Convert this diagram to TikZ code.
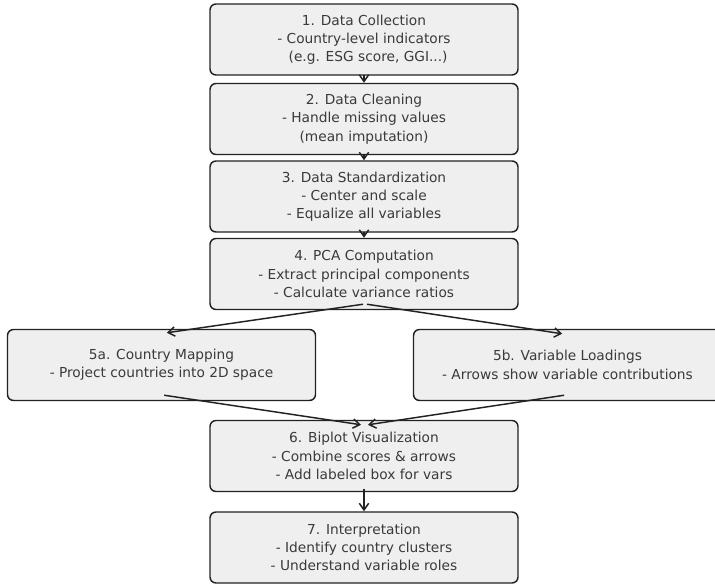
\documentclass[tikz,border=0pt]{standalone}
\usepackage{fontspec}
\setmainfont{DejaVu Sans}
\usetikzlibrary{arrows.meta}
\definecolor{boxfill}{HTML}{EFEFEF}
\definecolor{boxline}{HTML}{222222}
\definecolor{txt}{HTML}{3A3A3A}
\tikzset{
  stepbox/.style={draw=boxline, fill=boxfill, line width=1.1pt, rounded corners=4.5pt,
    minimum width=231pt, minimum height=53.25pt, inner sep=0pt, align=center,
    text=txt, font=\fontsize{10.3}{13.7}\selectfont},
  arr/.style={draw=boxline, line width=1.1pt, -{Straight Barb[length=5pt,width=7pt]}}
}
\begin{document}
\begin{tikzpicture}[x=0.75pt,y=-0.75pt]
\fill[white] (0,0) rectangle (715,584);
\useasboundingbox (0,0) rectangle (715,584);
\clip (0,0) rectangle (715,584);
\node[stepbox] (b1) at (364,39.5) {1. Data Collection\\- Country-level indicators\\\hspace{0.6em}(e.g. ESG score, GGI...)};
\node[stepbox] (b2) at (364,119) {2. Data Cleaning\\- Handle missing values\\(mean imputation)};
\node[stepbox] (b3) at (364,196.5) {3. Data Standardization\\- Center and scale\\- Equalize all variables};
\node[stepbox] (b4) at (364,274) {4. PCA Computation\\- Extract principal components\\- Calculate variance ratios};
\node[stepbox] (b5a) at (161.5,365) {5a. Country Mapping\\- Project countries into 2D space};
\node[stepbox] (b5b) at (567.5,365) {5b. Variable Loadings\\- Arrows show variable contributions};
\node[stepbox] (b6) at (364,456) {6. Biplot Visualization\\- Combine scores \& arrows\\- Add labeled box for vars};
\node[stepbox] (b7) at (364,547.5) {7. Interpretation\\- Identify country clusters\\- Understand variable roles};
\draw[arr] ([yshift=0.5pt]b1.south) -- (b2.north);
\draw[arr] ([yshift=0.5pt]b2.south) -- (b3.north);
\draw[arr] ([yshift=0.5pt]b3.south) -- (b4.north);
\draw[arr] ([xshift=-0.75pt,yshift=4.5pt]b4.south) -- ([xshift=4pt,yshift=-3pt]b5a.north);
\draw[arr] ([xshift=2.25pt,yshift=4.5pt]b4.south) -- ([xshift=-4pt,yshift=-3.75pt]b5b.north);
\draw[arr] ([xshift=2pt,yshift=4.5pt]b5a.south) -- ([xshift=-2.25pt,yshift=-3.75pt]b6.north);
\draw[arr] ([xshift=-2.5pt,yshift=4.5pt]b5b.south) -- ([xshift=3pt,yshift=-3.75pt]b6.north);
\draw[arr] ([yshift=2.5pt]b6.south) -- (b7.north);
\end{tikzpicture}
\end{document}
